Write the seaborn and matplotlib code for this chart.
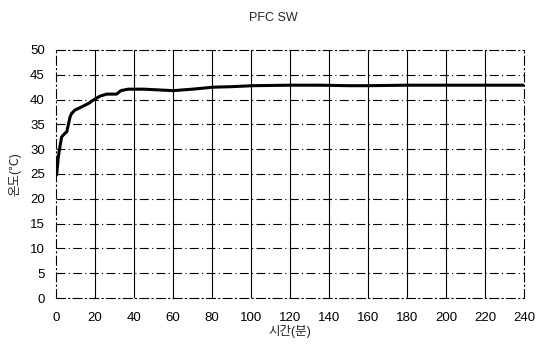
import numpy as np
import matplotlib
matplotlib.use("Agg")
import matplotlib.pyplot as plt
import seaborn as sns
import pandas as pd

# values
minutes = [0, 0.3, 1.2, 2.0, 2.9, 4.6, 5.5, 6.3, 7.2, 8.0, 9.7, 12, 14, 17, 19.1, 22.6, 26, 31.1,
           33.2, 37, 45, 60, 70, 80.7, 90, 101, 120, 135, 150, 160, 180, 200, 220, 240]
temp = [25.0, 24.8, 28.5, 30.5, 32.5, 33.2, 33.5, 34.9, 36.5, 37.2, 37.9, 38.3, 38.7, 39.3, 39.9,
        40.7, 41.1, 41.1, 41.8, 42.1, 42.1, 41.8, 42.1, 42.5, 42.6, 42.8, 42.9, 42.9, 42.8, 42.8,
        42.9, 42.9, 42.9, 42.9]
xticks = list(range(0, 241, 20))
yticks = list(range(0, 51, 5))

df = pd.DataFrame({"min": minutes, "temp": temp})

sns.set_theme(style="white")
plt.rcParams['font.family'] = ['Liberation Sans', 'Noto Sans CJK KR', 'DejaVu Sans']

fig = plt.figure(figsize=(5.36, 3.47), dpi=100)
ax = fig.add_axes([0.1045, 0.1412, 0.8735, 0.7148])

sns.lineplot(data=df, x="min", y="temp", ax=ax, color="black", linewidth=2.2, sort=False)

ax.set_xlim(0, 240)
ax.set_ylim(0, 50)
ax.set_xticks(xticks)
ax.set_yticks(yticks)
ax.tick_params(axis="both", labelsize=9.5, length=0, colors="black")
ax.tick_params(axis="x", pad=10)
ax.tick_params(axis="y", pad=8)
for v in xticks[1:-1]:
    ax.axvline(v, color="black", linewidth=0.8, zorder=0)
for v in yticks[1:-1]:
    ax.axhline(v, color="black", linewidth=0.8, linestyle=(0, (8, 3, 1, 3)), zorder=0)
for s in ax.spines.values():
    s.set_color("black")
    s.set_linewidth(0.8)
    s.set_linestyle((0, (8, 3, 1, 3)))

ax.set_xlabel("시간(분)", fontsize=9, labelpad=1)
ax.set_ylabel("온도(℃)", fontsize=9, labelpad=6)
fig.text(0.51, 0.948, "PFC SW", ha="center", va="center", fontsize=9)

fig.savefig("out.png", dpi=100)
